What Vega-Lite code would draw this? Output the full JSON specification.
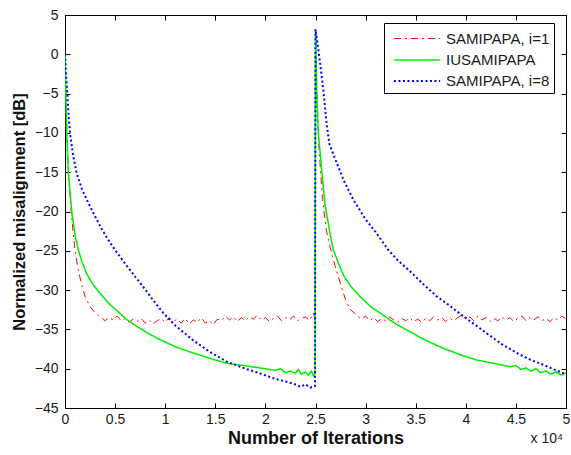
{
"$schema":"https://vega.github.io/schema/vega-lite/v6.json",
"width":501,"height":393,
"autosize":{"type":"none"},
"padding":{"left":65,"top":15,"right":5,"bottom":47},
"background":"white",
"config":{"view":{"stroke":"black","strokeWidth":1},"font":"Liberation Sans",
"axis":{"domainColor":"black","tickColor":"black","labelColor":"#1a1a1a","labelFont":"Liberation Sans","labelFontSize":14,"grid":false,"titleFont":"Liberation Sans","titleFontWeight":"bold","titleColor":"#111"}},
"datasets":{"c":[
{"s":"SAMIPAPA, i=1","it":0,"db":0},{"s":"SAMIPAPA, i=1","it":150,"db":-8},{"s":"SAMIPAPA, i=1","it":330,"db":-15},{"s":"SAMIPAPA, i=1","it":650,"db":-20.5},{"s":"SAMIPAPA, i=1","it":1000,"db":-25},{"s":"SAMIPAPA, i=1","it":1300,"db":-27.3},{"s":"SAMIPAPA, i=1","it":1660,"db":-29.3},{"s":"SAMIPAPA, i=1","it":2000,"db":-30.8},{"s":"SAMIPAPA, i=1","it":2500,"db":-32.1},{"s":"SAMIPAPA, i=1","it":3000,"db":-32.9},{"s":"SAMIPAPA, i=1","it":3330,"db":-33.2},
{"s":"SAMIPAPA, i=1","it":3600,"db":-33.4},{"s":"SAMIPAPA, i=1","it":4000,"db":-33.9},{"s":"SAMIPAPA, i=1","it":4400,"db":-33.5},{"s":"SAMIPAPA, i=1","it":4800,"db":-33.8},{"s":"SAMIPAPA, i=1","it":5200,"db":-33.3},{"s":"SAMIPAPA, i=1","it":5600,"db":-33.9},{"s":"SAMIPAPA, i=1","it":6000,"db":-33.6},{"s":"SAMIPAPA, i=1","it":6400,"db":-34.1},{"s":"SAMIPAPA, i=1","it":6800,"db":-33.7},{"s":"SAMIPAPA, i=1","it":7200,"db":-34.0},{"s":"SAMIPAPA, i=1","it":7600,"db":-33.6},{"s":"SAMIPAPA, i=1","it":8000,"db":-34.2},{"s":"SAMIPAPA, i=1","it":8400,"db":-33.8},{"s":"SAMIPAPA, i=1","it":8800,"db":-34.3},{"s":"SAMIPAPA, i=1","it":9200,"db":-33.9},{"s":"SAMIPAPA, i=1","it":9600,"db":-33.6},{"s":"SAMIPAPA, i=1","it":10000,"db":-34.1},{"s":"SAMIPAPA, i=1","it":10400,"db":-33.5},{"s":"SAMIPAPA, i=1","it":10800,"db":-34.0},{"s":"SAMIPAPA, i=1","it":11200,"db":-33.7},{"s":"SAMIPAPA, i=1","it":11600,"db":-34.2},{"s":"SAMIPAPA, i=1","it":12000,"db":-33.6},{"s":"SAMIPAPA, i=1","it":12400,"db":-34.3},{"s":"SAMIPAPA, i=1","it":12800,"db":-33.8},{"s":"SAMIPAPA, i=1","it":13200,"db":-34.1},{"s":"SAMIPAPA, i=1","it":13600,"db":-33.5},{"s":"SAMIPAPA, i=1","it":14000,"db":-34.2},{"s":"SAMIPAPA, i=1","it":14400,"db":-33.9},{"s":"SAMIPAPA, i=1","it":14800,"db":-34.4},{"s":"SAMIPAPA, i=1","it":15200,"db":-33.7},{"s":"SAMIPAPA, i=1","it":15600,"db":-33.9},{"s":"SAMIPAPA, i=1","it":16000,"db":-33.3},{"s":"SAMIPAPA, i=1","it":16400,"db":-33.8},{"s":"SAMIPAPA, i=1","it":16800,"db":-33.4},{"s":"SAMIPAPA, i=1","it":17200,"db":-34.0},{"s":"SAMIPAPA, i=1","it":17600,"db":-33.5},{"s":"SAMIPAPA, i=1","it":18000,"db":-33.9},{"s":"SAMIPAPA, i=1","it":18400,"db":-33.4},{"s":"SAMIPAPA, i=1","it":18800,"db":-33.7},{"s":"SAMIPAPA, i=1","it":19200,"db":-33.2},{"s":"SAMIPAPA, i=1","it":19600,"db":-33.8},{"s":"SAMIPAPA, i=1","it":20000,"db":-33.5},{"s":"SAMIPAPA, i=1","it":20400,"db":-34.0},{"s":"SAMIPAPA, i=1","it":20800,"db":-33.6},{"s":"SAMIPAPA, i=1","it":21200,"db":-33.3},{"s":"SAMIPAPA, i=1","it":21600,"db":-33.9},{"s":"SAMIPAPA, i=1","it":22000,"db":-33.5},{"s":"SAMIPAPA, i=1","it":22400,"db":-33.8},{"s":"SAMIPAPA, i=1","it":22800,"db":-33.3},{"s":"SAMIPAPA, i=1","it":23200,"db":-33.9},{"s":"SAMIPAPA, i=1","it":23600,"db":-33.6},{"s":"SAMIPAPA, i=1","it":24000,"db":-33.4},{"s":"SAMIPAPA, i=1","it":24400,"db":-33.9},{"s":"SAMIPAPA, i=1","it":24800,"db":-32.9},{"s":"SAMIPAPA, i=1","it":24950,"db":-33.7},
{"s":"SAMIPAPA, i=1","it":25000,"db":3},{"s":"SAMIPAPA, i=1","it":25150,"db":-5},{"s":"SAMIPAPA, i=1","it":25350,"db":-12},{"s":"SAMIPAPA, i=1","it":25700,"db":-18.5},{"s":"SAMIPAPA, i=1","it":26100,"db":-22.5},{"s":"SAMIPAPA, i=1","it":26450,"db":-24.5},{"s":"SAMIPAPA, i=1","it":26950,"db":-26.9},{"s":"SAMIPAPA, i=1","it":27610,"db":-29.7},{"s":"SAMIPAPA, i=1","it":28000,"db":-31.2},{"s":"SAMIPAPA, i=1","it":28440,"db":-32.4},{"s":"SAMIPAPA, i=1","it":29270,"db":-33.4},
{"s":"SAMIPAPA, i=1","it":29600,"db":-33.7},{"s":"SAMIPAPA, i=1","it":30000,"db":-33.3},{"s":"SAMIPAPA, i=1","it":30400,"db":-33.9},{"s":"SAMIPAPA, i=1","it":30800,"db":-33.5},{"s":"SAMIPAPA, i=1","it":31200,"db":-34.0},{"s":"SAMIPAPA, i=1","it":31600,"db":-33.6},{"s":"SAMIPAPA, i=1","it":32000,"db":-33.9},{"s":"SAMIPAPA, i=1","it":32400,"db":-33.4},{"s":"SAMIPAPA, i=1","it":32800,"db":-33.8},{"s":"SAMIPAPA, i=1","it":33200,"db":-34.1},{"s":"SAMIPAPA, i=1","it":33600,"db":-33.6},{"s":"SAMIPAPA, i=1","it":34000,"db":-33.9},{"s":"SAMIPAPA, i=1","it":34400,"db":-33.5},{"s":"SAMIPAPA, i=1","it":34800,"db":-34.0},{"s":"SAMIPAPA, i=1","it":35200,"db":-33.7},{"s":"SAMIPAPA, i=1","it":35600,"db":-34.1},{"s":"SAMIPAPA, i=1","it":36000,"db":-33.6},{"s":"SAMIPAPA, i=1","it":36400,"db":-33.9},{"s":"SAMIPAPA, i=1","it":36800,"db":-33.4},{"s":"SAMIPAPA, i=1","it":37200,"db":-33.8},{"s":"SAMIPAPA, i=1","it":37600,"db":-33.5},{"s":"SAMIPAPA, i=1","it":38000,"db":-34.0},{"s":"SAMIPAPA, i=1","it":38400,"db":-33.6},{"s":"SAMIPAPA, i=1","it":38800,"db":-33.9},{"s":"SAMIPAPA, i=1","it":39200,"db":-33.5},{"s":"SAMIPAPA, i=1","it":39600,"db":-33.2},{"s":"SAMIPAPA, i=1","it":40000,"db":-33.7},{"s":"SAMIPAPA, i=1","it":40400,"db":-33.4},{"s":"SAMIPAPA, i=1","it":40800,"db":-33.9},{"s":"SAMIPAPA, i=1","it":41200,"db":-33.3},{"s":"SAMIPAPA, i=1","it":41600,"db":-33.8},{"s":"SAMIPAPA, i=1","it":42000,"db":-33.5},{"s":"SAMIPAPA, i=1","it":42400,"db":-34.0},{"s":"SAMIPAPA, i=1","it":42800,"db":-33.6},{"s":"SAMIPAPA, i=1","it":43200,"db":-33.9},{"s":"SAMIPAPA, i=1","it":43600,"db":-33.4},{"s":"SAMIPAPA, i=1","it":44000,"db":-33.8},{"s":"SAMIPAPA, i=1","it":44400,"db":-33.5},{"s":"SAMIPAPA, i=1","it":44800,"db":-34.0},{"s":"SAMIPAPA, i=1","it":45200,"db":-33.6},{"s":"SAMIPAPA, i=1","it":45600,"db":-33.3},{"s":"SAMIPAPA, i=1","it":46000,"db":-33.9},{"s":"SAMIPAPA, i=1","it":46400,"db":-33.5},{"s":"SAMIPAPA, i=1","it":46800,"db":-33.8},{"s":"SAMIPAPA, i=1","it":47200,"db":-33.4},{"s":"SAMIPAPA, i=1","it":47600,"db":-33.9},{"s":"SAMIPAPA, i=1","it":48000,"db":-33.6},{"s":"SAMIPAPA, i=1","it":48400,"db":-34.0},{"s":"SAMIPAPA, i=1","it":48800,"db":-33.5},{"s":"SAMIPAPA, i=1","it":49200,"db":-33.8},{"s":"SAMIPAPA, i=1","it":49600,"db":-33.3},{"s":"SAMIPAPA, i=1","it":50000,"db":-33.7},
{"s":"IUSAMIPAPA","it":0,"db":0},{"s":"IUSAMIPAPA","it":100,"db":-6},{"s":"IUSAMIPAPA","it":170,"db":-10},{"s":"IUSAMIPAPA","it":330,"db":-15},{"s":"IUSAMIPAPA","it":670,"db":-20},{"s":"IUSAMIPAPA","it":1000,"db":-23},{"s":"IUSAMIPAPA","it":1330,"db":-24.9},{"s":"IUSAMIPAPA","it":1700,"db":-26.4},{"s":"IUSAMIPAPA","it":2160,"db":-27.9},{"s":"IUSAMIPAPA","it":2800,"db":-29.3},{"s":"IUSAMIPAPA","it":3490,"db":-30.4},{"s":"IUSAMIPAPA","it":4300,"db":-31.6},{"s":"IUSAMIPAPA","it":5160,"db":-32.6},{"s":"IUSAMIPAPA","it":6100,"db":-33.7},{"s":"IUSAMIPAPA","it":7150,"db":-34.6},{"s":"IUSAMIPAPA","it":8300,"db":-35.5},{"s":"IUSAMIPAPA","it":9480,"db":-36.3},{"s":"IUSAMIPAPA","it":11000,"db":-37.2},{"s":"IUSAMIPAPA","it":12800,"db":-38.0},{"s":"IUSAMIPAPA","it":14500,"db":-38.7},{"s":"IUSAMIPAPA","it":16140,"db":-39.3},{"s":"IUSAMIPAPA","it":17800,"db":-39.6},{"s":"IUSAMIPAPA","it":19460,"db":-39.9},{"s":"IUSAMIPAPA","it":21000,"db":-40.2},{"s":"IUSAMIPAPA","it":21500,"db":-40.0},{"s":"IUSAMIPAPA","it":22000,"db":-40.5},{"s":"IUSAMIPAPA","it":22500,"db":-40.3},{"s":"IUSAMIPAPA","it":23000,"db":-40.6},{"s":"IUSAMIPAPA","it":23300,"db":-40.1},{"s":"IUSAMIPAPA","it":23600,"db":-40.7},{"s":"IUSAMIPAPA","it":24000,"db":-40.4},{"s":"IUSAMIPAPA","it":24300,"db":-40.8},{"s":"IUSAMIPAPA","it":24600,"db":-40.3},{"s":"IUSAMIPAPA","it":24800,"db":-40.9},{"s":"IUSAMIPAPA","it":24950,"db":-40.6},
{"s":"IUSAMIPAPA","it":25000,"db":3},{"s":"IUSAMIPAPA","it":25120,"db":-5},{"s":"IUSAMIPAPA","it":25280,"db":-10},{"s":"IUSAMIPAPA","it":25620,"db":-14.7},{"s":"IUSAMIPAPA","it":25950,"db":-19.2},{"s":"IUSAMIPAPA","it":26450,"db":-22.8},{"s":"IUSAMIPAPA","it":26780,"db":-24.9},{"s":"IUSAMIPAPA","it":27200,"db":-26.3},{"s":"IUSAMIPAPA","it":27780,"db":-28.1},{"s":"IUSAMIPAPA","it":28500,"db":-29.5},{"s":"IUSAMIPAPA","it":29440,"db":-30.8},{"s":"IUSAMIPAPA","it":30500,"db":-32.1},{"s":"IUSAMIPAPA","it":31770,"db":-33.2},{"s":"IUSAMIPAPA","it":33000,"db":-34.3},{"s":"IUSAMIPAPA","it":34430,"db":-35.3},{"s":"IUSAMIPAPA","it":36000,"db":-36.4},{"s":"IUSAMIPAPA","it":37760,"db":-37.4},{"s":"IUSAMIPAPA","it":39400,"db":-38.2},{"s":"IUSAMIPAPA","it":41090,"db":-38.9},{"s":"IUSAMIPAPA","it":42700,"db":-39.3},{"s":"IUSAMIPAPA","it":44410,"db":-39.75},{"s":"IUSAMIPAPA","it":45000,"db":-39.6},{"s":"IUSAMIPAPA","it":45500,"db":-40.1},{"s":"IUSAMIPAPA","it":46000,"db":-39.9},{"s":"IUSAMIPAPA","it":46500,"db":-40.3},{"s":"IUSAMIPAPA","it":47000,"db":-40.0},{"s":"IUSAMIPAPA","it":47500,"db":-40.5},{"s":"IUSAMIPAPA","it":48000,"db":-40.3},{"s":"IUSAMIPAPA","it":48500,"db":-40.7},{"s":"IUSAMIPAPA","it":49000,"db":-40.4},{"s":"IUSAMIPAPA","it":49500,"db":-40.8},{"s":"IUSAMIPAPA","it":50000,"db":-40.6},
{"s":"SAMIPAPA, i=8","it":0,"db":0},{"s":"SAMIPAPA, i=8","it":100,"db":-2.5},{"s":"SAMIPAPA, i=8","it":230,"db":-5},{"s":"SAMIPAPA, i=8","it":350,"db":-7.5},{"s":"SAMIPAPA, i=8","it":500,"db":-10},{"s":"SAMIPAPA, i=8","it":800,"db":-12.8},{"s":"SAMIPAPA, i=8","it":1160,"db":-15.1},{"s":"SAMIPAPA, i=8","it":1700,"db":-17.2},{"s":"SAMIPAPA, i=8","it":2330,"db":-18.9},{"s":"SAMIPAPA, i=8","it":3000,"db":-20.6},{"s":"SAMIPAPA, i=8","it":3490,"db":-21.8},{"s":"SAMIPAPA, i=8","it":4160,"db":-23.3},{"s":"SAMIPAPA, i=8","it":5000,"db":-24.9},{"s":"SAMIPAPA, i=8","it":6160,"db":-26.9},{"s":"SAMIPAPA, i=8","it":7000,"db":-28.3},{"s":"SAMIPAPA, i=8","it":7810,"db":-29.6},{"s":"SAMIPAPA, i=8","it":8800,"db":-31.3},{"s":"SAMIPAPA, i=8","it":9810,"db":-32.9},{"s":"SAMIPAPA, i=8","it":11000,"db":-34.5},{"s":"SAMIPAPA, i=8","it":12800,"db":-36.4},{"s":"SAMIPAPA, i=8","it":14500,"db":-37.9},{"s":"SAMIPAPA, i=8","it":16140,"db":-39.1},{"s":"SAMIPAPA, i=8","it":18000,"db":-40},{"s":"SAMIPAPA, i=8","it":19460,"db":-40.6},{"s":"SAMIPAPA, i=8","it":21000,"db":-41.3},{"s":"SAMIPAPA, i=8","it":22790,"db":-41.9},{"s":"SAMIPAPA, i=8","it":23500,"db":-42.3},{"s":"SAMIPAPA, i=8","it":24000,"db":-42.0},{"s":"SAMIPAPA, i=8","it":24500,"db":-42.4},{"s":"SAMIPAPA, i=8","it":24950,"db":-42.2},
{"s":"SAMIPAPA, i=8","it":25000,"db":3.2},{"s":"SAMIPAPA, i=8","it":25350,"db":0},{"s":"SAMIPAPA, i=8","it":25780,"db":-4.5},{"s":"SAMIPAPA, i=8","it":26120,"db":-9},{"s":"SAMIPAPA, i=8","it":26400,"db":-11.5},{"s":"SAMIPAPA, i=8","it":27120,"db":-13.8},{"s":"SAMIPAPA, i=8","it":27800,"db":-16},{"s":"SAMIPAPA, i=8","it":28770,"db":-18.5},{"s":"SAMIPAPA, i=8","it":30000,"db":-21},{"s":"SAMIPAPA, i=8","it":31110,"db":-22.8},{"s":"SAMIPAPA, i=8","it":32270,"db":-24.9},{"s":"SAMIPAPA, i=8","it":33200,"db":-26.2},{"s":"SAMIPAPA, i=8","it":34430,"db":-27.6},{"s":"SAMIPAPA, i=8","it":35800,"db":-29.3},{"s":"SAMIPAPA, i=8","it":37100,"db":-30.8},{"s":"SAMIPAPA, i=8","it":38300,"db":-31.9},{"s":"SAMIPAPA, i=8","it":39420,"db":-33},{"s":"SAMIPAPA, i=8","it":40800,"db":-34.3},{"s":"SAMIPAPA, i=8","it":42090,"db":-35.5},{"s":"SAMIPAPA, i=8","it":43500,"db":-36.8},{"s":"SAMIPAPA, i=8","it":45080,"db":-38},{"s":"SAMIPAPA, i=8","it":46500,"db":-38.9},{"s":"SAMIPAPA, i=8","it":47740,"db":-39.5},{"s":"SAMIPAPA, i=8","it":49000,"db":-40.2},{"s":"SAMIPAPA, i=8","it":50000,"db":-40.7}
]},
"layer":[
{"data":{"name":"c"},
"mark":{"type":"line","clip":true},
"encoding":{
"x":{"field":"it","type":"quantitative","scale":{"domain":[0,50000],"nice":false,"zero":false},
"axis":{"orient":"bottom","values":[0,5000,10000,15000,20000,25000,30000,35000,40000,45000,50000],"labelExpr":"datum.value/10000","tickSize":-5,"labelPadding":9,"title":"Number of Iterations","titleFontSize":18,"titlePadding":3,"labelFlush":false}},
"y":{"field":"db","type":"quantitative","scale":{"domain":[-45,5],"nice":false,"zero":false},
"axis":{"orient":"left","values":[-45,-40,-35,-30,-25,-20,-15,-10,-5,0,5],"tickSize":-5,"labelPadding":12,"title":"Normalized misalignment [dB]","titleFontSize":16.5,"titlePadding":7}},
"color":{"field":"s","type":"nominal","scale":{"domain":["SAMIPAPA, i=1","IUSAMIPAPA","SAMIPAPA, i=8"],"range":["#ff0000","#00ee00","#0000ff"]},
"legend":{"orient":"none","legendX":319,"legendY":8,"title":null,"strokeColor":"black","fillColor":"white","padding":4,"labelFontSize":15,"labelColor":"#1a1a1a","symbolType":"M-0.55,0H3.65","symbolSize":484,"symbolStrokeWidth":2,"rowPadding":1,"labelOffset":34,"labelExpr":"datum.label + '  '"}},
"strokeDash":{"field":"s","type":"nominal","scale":{"domain":["SAMIPAPA, i=1","IUSAMIPAPA","SAMIPAPA, i=8"],"range":[[7,4,2,4],[1,0],[2,2.5]]}},
"strokeWidth":{"field":"s","type":"nominal","scale":{"domain":["SAMIPAPA, i=1","IUSAMIPAPA","SAMIPAPA, i=8"],"range":[1,2,2]}}
}},
{"data":{"values":[{"t":"x 10⁴"}]},
"mark":{"type":"text","align":"right","baseline":"alphabetic","dy":35,"dx":-3,"fontSize":14,"color":"#1a1a1a","font":"Liberation Sans"},
"encoding":{
"x":{"datum":50000,"type":"quantitative","axis":{"orient":"top","labels":false,"title":null,"tickSize":-5,"values":[0,5000,10000,15000,20000,25000,30000,35000,40000,45000,50000]}},
"y":{"datum":-45,"type":"quantitative","axis":{"orient":"right","labels":false,"title":null,"tickSize":-5,"values":[-45,-40,-35,-30,-25,-20,-15,-10,-5,0,5]}},
"text":{"field":"t"}
}}
],
"resolve":{"axis":{"x":"independent","y":"independent"}}
}
